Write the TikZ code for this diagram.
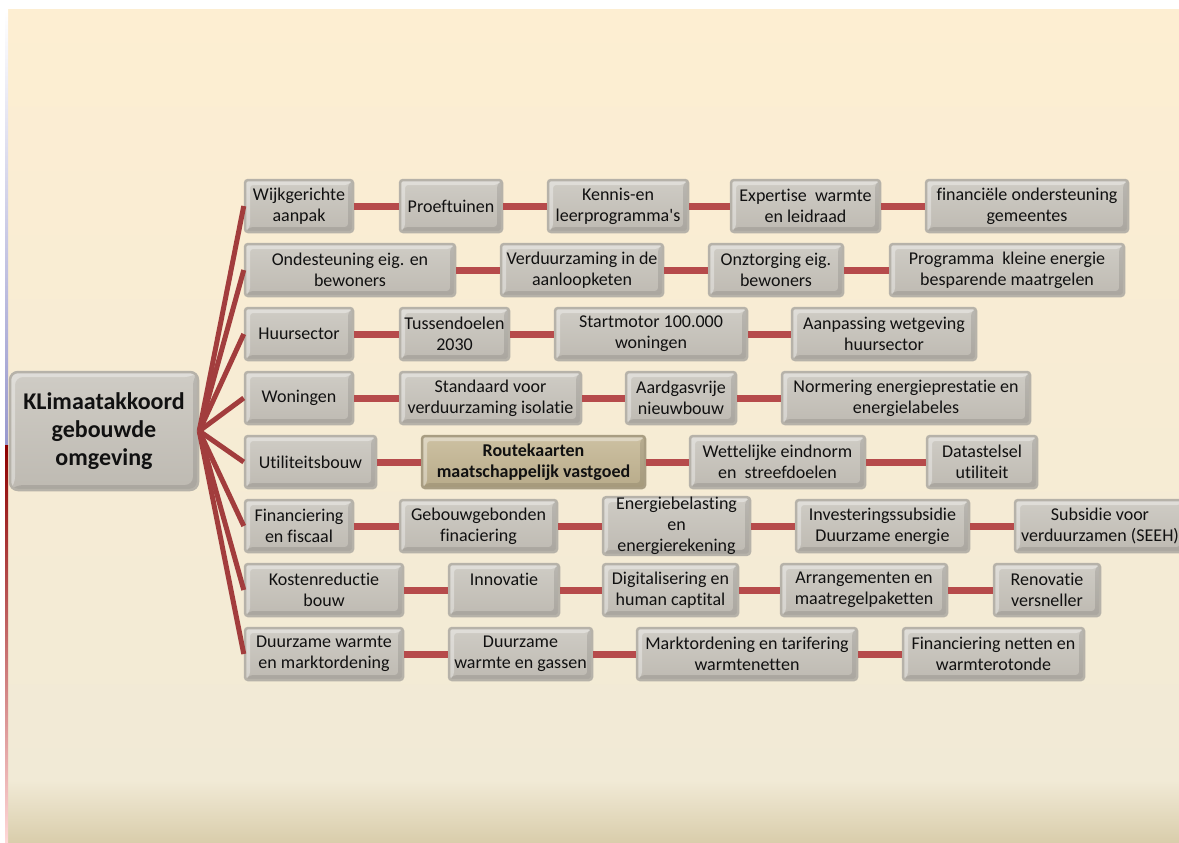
\documentclass[tikz,border=0pt]{standalone}
\usepackage{fontspec}
\setmainfont{Carlito}[Ligatures={NoCommon}]
\usetikzlibrary{positioning}

\definecolor{creamtop}{HTML}{FDEED2}
\definecolor{creammid}{HTML}{F1EAD6}
\definecolor{creambot}{HTML}{D9CDAB}
\definecolor{boxtop}{HTML}{CFCCC5}
\definecolor{boxbot}{HTML}{BEBAB2}
\definecolor{boxedge}{HTML}{B6B2A9}
\definecolor{keytop}{HTML}{CDC1A2}
\definecolor{keybot}{HTML}{B8AB8A}
\definecolor{keyedge}{HTML}{A89D82}
\definecolor{textgray}{HTML}{111111}
\definecolor{linkred}{HTML}{B64B4B}
\definecolor{spokered}{HTML}{A23D3D}

\begin{document}
\begin{tikzpicture}[x=1pt,y=-1pt,
    bevel/.style={path picture={
      \path (path picture bounding box.south west) coordinate (bsw)
            (path picture bounding box.north east) coordinate (bne);
      \fill[white,opacity=.35] (bsw) -- ([shift={(5pt,5pt)}]bsw) |- ([shift={(-5pt,-5pt)}]bne)
        -- (bne) -| (bsw) -- cycle;
      \fill[black,opacity=.10] (bsw) -- ([shift={(5pt,5pt)}]bsw) -| ([shift={(-5pt,-5pt)}]bne)
        -- (bne) |- (bsw) -- cycle;}},
    box node/.style={rectangle,rounded corners=3pt,draw=boxedge,line width=2.5pt,
      top color=boxtop,bottom color=boxbot,bevel,align=center,inner sep=0pt,
      minimum height=52pt,text=textgray,font=\fontsize{18}{21}\selectfont},
    key node/.style={box node,draw=keyedge,top color=keytop,bottom color=keybot,
      font=\fontsize{18}{21}\selectfont\bfseries},
    hub node/.style={box node,rounded corners=8pt,minimum width=188pt,
      minimum height=118pt,font=\fontsize{24}{28}\selectfont\bfseries},
    link/.style={draw=linkred,line width=7pt},
    spoke/.style={draw=spokered,line width=5pt}]

  \useasboundingbox (0,0) rectangle (1179,843);
  \clip (0,0) rectangle (1179,843);

  % background
  \fill[white] (0,0) rectangle (1179,843);
  \shade[top color=creamtop,bottom color=creammid] (8,10) rectangle (1179,780);
  \shade[top color=creammid,bottom color=creambot] (8,780) rectangle (1179,843);
  \shade[top color=white,bottom color=blue!35!gray!60] (5,10) rectangle (8,445);
  \shade[top color=red!55!black,bottom color=red!15] (5,445) rectangle (8,843);

  \node[hub node] (hub) at (104,431) {KLimaatakkoord\\gebouwde\\omgeving};

  % row 1
  \node[box node,minimum width=108] (w1) at (299,206) {Wijkgerichte\\aanpak};
  \node[box node,minimum width=102] (p1) at (451,206) {Proeftuinen};
  \node[box node,minimum width=140] (k1) at (618,206) {Kennis-en\\leerprogramma\textquotesingle s};
  \node[box node,minimum width=149] (e1) at (805.5,206) {Expertise\ \ warmte\\en leidraad};
  \node[box node,minimum width=202] (f1) at (1027,206) {financiële ondersteuning\\gemeentes};

  % row 2
  \node[box node,minimum width=210] (o2) at (350,270) {Ondesteuning eig. en\\bewoners};
  \node[box node,minimum width=162] (v2) at (582,270) {Verduurzaming in de\\aanloopketen};
  \node[box node,minimum width=134] (z2) at (776,270) {Onztorging eig.\\bewoners};
  \node[box node,minimum width=234] (g2) at (1007,270) {Programma\ \ kleine energie\\besparende maatrgelen};

  % row 3
  \node[box node,minimum width=108] (h3) at (299,334) {Huursector};
  \node[box node,minimum width=109] (t3) at (454.5,334) {Tussendoelen\\2030};
  \node[box node,minimum width=192] (s3) at (651,334) {Startmotor 100.000\\woningen};
  \node[box node,minimum width=184] (a3) at (884,334) {Aanpassing wetgeving\\huursector};

  % row 4
  \node[box node,minimum width=108] (w4) at (299,398) {Woningen};
  \node[box node,minimum width=181] (s4) at (490.5,398) {Standaard voor\\verduurzaming isolatie};
  \node[box node,minimum width=110] (a4) at (681,398) {Aardgasvrije\\nieuwbouw};
  \node[box node,minimum width=248] (n4) at (906,398) {Normering energieprestatie en\\energielabeles};

  % row 5
  \node[box node,minimum width=131] (u5) at (310.5,462) {Utiliteitsbouw};
  \node[key node,minimum width=223] (r5) at (533.5,462) {Routekaarten\\maatschappelijk vastgoed};
  \node[box node,minimum width=175] (w5) at (777.5,462) {Wettelijke eindnorm\\en\ \ streefdoelen};
  \node[box node,minimum width=110] (d5) at (982,462) {Datastelsel\\utiliteit};

  % row 6
  \node[box node,minimum width=108] (f6) at (299,526) {Financiering\\en fiscaal};
  \node[box node,minimum width=157] (g6) at (478.5,526) {Gebouwgebonden\\finaciering};
  \node[box node,minimum width=147] (e6) at (676.5,526) {Energiebelasting\\en\\energierekening};
  \node[box node,minimum width=173] (i6) at (882.5,526) {Investeringssubsidie\\Duurzame energie};
  \node[box node,minimum width=170] (s6) at (1100,526) {Subsidie voor\\verduurzamen (SEEH)};

  % row 7
  \node[box node,minimum width=158] (k7) at (324,590) {Kostenreductie\\bouw};
  \node[box node,minimum width=110] (i7) at (504,590) {Innovatie\\~};
  \node[box node,minimum width=135] (d7) at (670.5,590) {Digitalisering en\\human captital};
  \node[box node,minimum width=166] (a7) at (864,590) {Arrangementen en\\maatregelpaketten};
  \node[box node,minimum width=106] (r7) at (1047,590) {Renovatie\\versneller};

  % row 8
  \node[box node,minimum width=158] (d8) at (324,654) {Duurzame warmte\\en marktordening};
  \node[box node,minimum width=143] (g8) at (520.5,654) {Duurzame\\warmte en gassen};
  \node[box node,minimum width=220] (m8) at (747,654) {Marktordening en tarifering\\warmtenetten};
  \node[box node,minimum width=181] (f8) at (993.5,654) {Financiering netten en\\warmterotonde};

  \path[spoke]
    (hub.east) edge (w1.west)
    (hub.east) edge (o2.west)
    (hub.east) edge (h3.west)
    (hub.east) edge (w4.west)
    (hub.east) edge (u5.west)
    (hub.east) edge (f6.west)
    (hub.east) edge (k7.west)
    (hub.east) edge (d8.west);

  \path[link]
    (w1) edge (p1) (p1) edge (k1) (k1) edge (e1) (e1) edge (f1)
    (o2) edge (v2) (v2) edge (z2) (z2) edge (g2)
    (h3) edge (t3) (t3) edge (s3) (s3) edge (a3)
    (w4) edge (s4) (s4) edge (a4) (a4) edge (n4)
    (u5) edge (r5) (r5) edge (w5) (w5) edge (d5)
    (f6) edge (g6) (g6) edge (e6) (e6) edge (i6) (i6) edge (s6)
    (k7) edge (i7) (i7) edge (d7) (d7) edge (a7) (a7) edge (r7)
    (d8) edge (g8) (g8) edge (m8) (m8) edge (f8);

\end{tikzpicture}
\end{document}
